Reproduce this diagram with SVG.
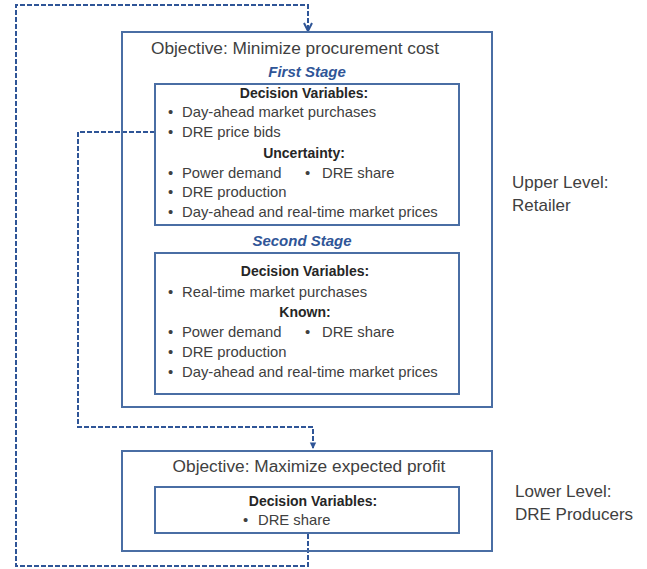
<svg xmlns="http://www.w3.org/2000/svg" width="647" height="569" viewBox="0 0 647 569">
<defs>
<style>
.box{fill:none;stroke:#4a6ea4;stroke-width:2}
.dash{fill:none;stroke:#2f5597;stroke-width:2;stroke-dasharray:5 2}
text{font-family:"Liberation Sans",Arial,sans-serif;fill:#404040}
.obj{font-size:17.3px}
.t{font-size:14.8px}
.h{font-size:14px;font-weight:bold;text-anchor:middle;fill:#262626}
.stage{font-size:15px;font-weight:bold;font-style:italic;fill:#2f5597;text-anchor:middle}
.lvl{font-size:17px}
</style>
<marker id="arr" viewBox="0 0 10 10" refX="9" refY="5" markerWidth="5" markerHeight="5" orient="auto">
<path d="M1,1 L9,5 L1,9" fill="none" stroke="#2f5597" stroke-width="2"/>
</marker>
<marker id="arr2" viewBox="0 0 10 10" refX="9" refY="5" markerWidth="4" markerHeight="4" orient="auto">
<path d="M1,1 L9,5 L1,9 Z" fill="#2f5597"/>
</marker>
</defs>
<rect width="647" height="569" fill="#ffffff"/>

<g id="connectors">
<path class="dash" d="M308,534 V566 H16 V5 H308 V31" marker-end="url(#arr)"/>
<path class="dash" d="M155,132 H78 V427 H313 V449" marker-end="url(#arr2)"/>
</g>

<g id="upper-level">
<rect class="box" x="122" y="32" width="370" height="375"/>
<text class="obj" x="295" y="54" text-anchor="middle">Objective: Minimize procurement cost</text>
<text class="stage" x="307" y="77">First Stage</text>
</g>

<g id="first-stage">
<rect class="box" x="155" y="84" width="304" height="141"/>
<text class="h" x="304" y="98">Decision Variables:</text>
<text class="t" x="168" y="117">•</text><text class="t" x="182" y="117">Day-ahead market purchases</text>
<text class="t" x="168" y="137">•</text><text class="t" x="182" y="137">DRE price bids</text>
<text class="h" x="304" y="158">Uncertainty:</text>
<text class="t" x="168" y="178">•</text><text class="t" x="182" y="178">Power demand</text>
<text class="t" x="305" y="178">•</text><text class="t" x="322" y="178">DRE share</text>
<text class="t" x="168" y="197">•</text><text class="t" x="182" y="197">DRE production</text>
<text class="t" x="168" y="217">•</text><text class="t" x="182" y="217">Day-ahead and real-time market prices</text>
</g>

<g id="second-stage">
<text class="stage" x="302" y="246">Second Stage</text>
<rect class="box" x="155" y="253" width="304" height="141"/>
<text class="h" x="305" y="276">Decision Variables:</text>
<text class="t" x="168" y="297">•</text><text class="t" x="182" y="297">Real-time market purchases</text>
<text class="h" x="305" y="317">Known:</text>
<text class="t" x="168" y="337">•</text><text class="t" x="182" y="337">Power demand</text>
<text class="t" x="305" y="337">•</text><text class="t" x="322" y="337">DRE share</text>
<text class="t" x="168" y="357">•</text><text class="t" x="182" y="357">DRE production</text>
<text class="t" x="168" y="377">•</text><text class="t" x="182" y="377">Day-ahead and real-time market prices</text>
</g>

<g id="lower-level">
<rect class="box" x="122" y="451" width="370" height="100"/>
<text class="obj" x="309" y="472" text-anchor="middle">Objective: Maximize expected profit</text>
</g>

<g id="lower-decision">
<rect class="box" x="155" y="487" width="304" height="46"/>
<text class="h" x="313" y="506">Decision Variables:</text>
<text class="t" x="243" y="525">•</text><text class="t" x="258" y="525">DRE share</text>
</g>

<g id="labels">
<text class="lvl" x="512" y="188">Upper Level:</text>
<text class="lvl" x="512" y="211">Retailer</text>
<text class="lvl" x="515" y="497">Lower Level:</text>
<text class="lvl" x="515" y="520">DRE Producers</text>
</g>
</svg>
